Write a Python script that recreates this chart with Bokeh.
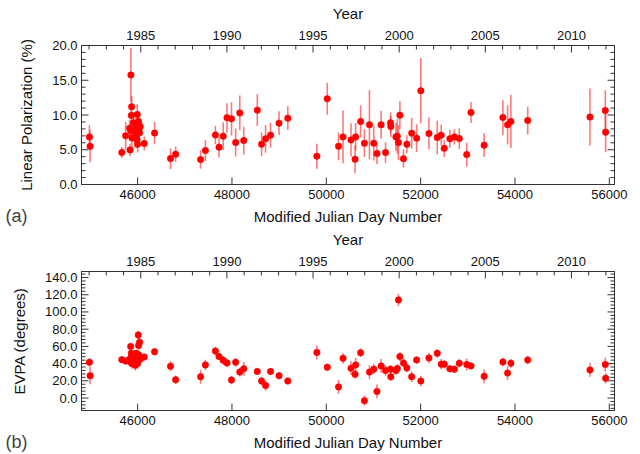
import math
from bokeh.plotting import figure
from bokeh.layouts import column
from bokeh.models import (ColumnDataSource, LinearAxis, Range1d, SingleIntervalTicker,
                          PrintfTickFormatter, BasicTickFormatter, CustomJSTickFormatter, Title)
from bokeh.embed import file_html
from bokeh.resources import INLINE

# ---- data ----
mjd = [44978, 44992, 45665, 45746, 45831, 45840, 45852, 45858, 45866, 45873,
       45880, 45915, 45928, 45949, 45970, 45985, 45992, 46000, 46013, 46020,
       46027, 46042, 46055, 46140, 46359, 46697, 46806, 47335, 47437, 47649,
       47726, 47815, 47895, 47990, 48078, 48166, 48250, 48537, 48628, 48713,
       48818, 48998, 49184, 49800, 50020, 50259, 50355, 50524, 50610, 50622,
       50727, 50808, 50915, 51006, 51074, 51162, 51256, 51362, 51368, 51476,
       51506, 51530, 51560, 51636, 51708, 51810, 51915, 52004, 52176, 52352,
       52436, 52500, 52620, 52715, 52820, 52977, 53068, 53346, 53744, 53843,
       53913, 54270, 55590, 55915, 55922]

pol = [6.85, 5.5, 4.6, 7.0, 8.1, 4.98, 7.72, 15.76, 9.93, 11.2,
       6.7, 8.9, 7.7, 6.85, 8.1, 6.47, 10.07, 5.8, 8.63, 9.06,
       8.0, 7.43, 8.34, 5.9, 7.4, 3.73, 4.36, 3.58, 4.88, 7.14,
       5.37, 6.95, 9.6, 9.45, 6.04, 10.3, 6.32, 10.7, 5.8, 6.57,
       7.1, 8.83, 9.55, 4.07, 12.34, 5.5, 6.85, 6.42, 3.63, 6.85,
       9.06, 5.94, 8.59, 5.94, 4.45, 8.59, 4.59, 8.87, 8.34, 6.85,
       6.95, 6.03, 9.98, 3.72, 5.8, 7.38, 6.67, 13.5, 7.33, 6.76,
       7.1, 5.2, 6.57, 6.85, 6.61, 4.3, 10.36, 5.66, 9.64, 8.59,
       9.06, 9.2, 9.7, 10.65, 7.53]

pol_err = [1.7, 2.3, 0.8, 2.0, 1.2, 0.9, 1.2, 3.9, 1.5, 1.5,
           1.3, 1.5, 1.5, 1.5, 1.5, 1.2, 1.5, 1.2, 1.5, 1.5,
           1.5, 1.2, 1.2, 1.0, 1.6, 1.5, 1.1, 1.3, 1.5, 1.3,
           1.5, 2.0, 2.1, 2.4, 2.0, 2.5, 2.0, 2.3, 1.7, 2.0,
           1.8, 1.7, 1.7, 1.8, 2.3, 2.0, 3.8, 2.4, 2.0, 2.0,
           2.3, 2.0, 5.0, 2.5, 1.5, 2.0, 1.5, 1.5, 1.5, 2.0,
           2.5, 2.5, 2.0, 1.3, 1.3, 2.2, 2.0, 4.7, 2.3, 2.4,
           1.5, 1.2, 1.3, 1.1, 1.5, 1.7, 1.5, 1.7, 2.5, 2.8,
           3.8, 2.0, 4.1, 2.9, 2.9]

evpa = [41.5, 25.9, 44.6, 43.0, 45.0, 42.0, 59.9, 46.1, 52.0, 48.0,
        40.0, 50.0, 44.0, 38.0, 52.0, 47.0, 42.0, 40.0, 73.2, 61.0,
        50.0, 64.8, 45.0, 47.6, 53.8, 37.0, 21.3, 24.7, 38.5, 54.5,
        48.1, 43.8, 40.8, 20.9, 41.6, 30.1, 33.9, 30.9, 19.8, 14.5,
        30.9, 25.9, 19.8, 53.0, 35.8, 12.9, 46.1, 34.7, 27.5, 38.5,
        52.6, -3.1, 30.1, 33.5, 7.6, 37.3, 32.0, 33.5, 24.7, 32.0,
        34.3, 114.0, 48.1, 40.8, 35.0, 24.7, 44.2, 19.8, 46.5, 51.9,
        39.3, 39.3, 33.9, 33.5, 40.4, 38.9, 37.3, 25.2, 41.9, 29.0,
        40.4, 44.2, 32.7, 38.9, 22.9]

evpa_err = [5, 10, 4, 4, 5, 6, 4, 5, 4, 5,
            6, 5, 5, 6, 4, 5, 8, 5, 5, 5,
            5, 5, 4, 4, 4, 6, 5, 8, 6, 5,
            4, 5, 5, 5, 5, 5, 8, 4, 5, 6,
            4, 4, 4, 8, 4, 8, 6, 8, 5, 8,
            5, 6, 8, 6, 8, 8, 6, 5, 5, 5,
            5, 7, 5, 5, 5, 6, 4, 6, 6, 5,
            6, 5, 4, 4, 5, 7, 4, 8, 5, 8,
            5, 5, 8, 8, 6]

MJD_MIN, MJD_MAX = 44810, 56110
MJD_STEP = 2000
YEAR_STEP = 5

W, H = 640, 227
BL, BR = 81, 26


def mjd_to_year(m):
    return 1858.877 + m / 365.25


def year_to_mjd(y):
    return (y - 1858.877) * 365.25


FONT = "Liberation Sans"
AX_COLOR = "#333333"


def style_axis(ax, labels=True):
    ax.major_tick_in = 0
    ax.major_tick_out = 0
    ax.minor_tick_in = 0
    ax.minor_tick_out = 0
    ax.axis_line_color = AX_COLOR
    ax.major_label_text_font = FONT
    ax.major_label_text_color = "#111111"
    ax.major_label_text_font_size = "13px"
    ax.axis_label_text_font = FONT
    ax.axis_label_text_font_style = "normal"
    ax.axis_label_text_font_size = "15px"
    ax.axis_label_text_color = "#111111"
    if not labels:
        ax.formatter = CustomJSTickFormatter(code="return ''")
        ax.major_label_standoff = 0


def multiples(lo, hi, step):
    k0 = math.ceil(lo / step - 1e-9)
    k1 = math.floor(hi / step + 1e-9)
    return [k * step for k in range(k0, k1 + 1)]


def add_ticks(p, y_lo, y_hi, y_interval, frame_h):
    # inward tick marks, lengths converted from pixels to data units
    frame_w = W - BL - BR
    dx = (MJD_MAX - MJD_MIN) / frame_w
    dy = (y_hi - y_lo) / frame_h
    x0s, y0s, x1s, y1s = [], [], [], []

    def vtick(x, y, n):  # n pixels, sign = direction
        x0s.append(x); y0s.append(y); x1s.append(x); y1s.append(y + n * dy)

    def htick(x, y, n):
        x0s.append(x); y0s.append(y); x1s.append(x + n * dx); y1s.append(y)

    for x in multiples(MJD_MIN, MJD_MAX, MJD_STEP):
        vtick(x, y_lo, 7)
    for yr in multiples(mjd_to_year(MJD_MIN), mjd_to_year(MJD_MAX), 1):
        vtick(year_to_mjd(yr), y_hi, -7 if yr % YEAR_STEP == 0 else -4)
    minor_step = y_interval / 5
    for v in multiples(y_lo, y_hi, minor_step):
        is_major = abs(v / y_interval - round(v / y_interval)) < 1e-6
        n = 7 if is_major else 4
        htick(MJD_MIN, v, n)
        htick(MJD_MAX, v, -n)
    p.segment(x0=x0s, y0=y0s, x1=x1s, y1=y1s, line_color=AX_COLOR, line_width=1)


def make_panel(vals, errs, y_lo, y_hi, y_interval, y_label, tag, b_top, b_bottom):
    p = figure(width=W, height=H, output_backend="svg", toolbar_location=None,
               x_range=Range1d(MJD_MIN, MJD_MAX), y_range=Range1d(y_lo, y_hi),
               min_border_left=BL, min_border_right=BR,
               min_border_top=b_top, min_border_bottom=b_bottom)
    p.grid.visible = False
    p.outline_line_color = AX_COLOR
    p.extra_x_ranges = {"year": Range1d(mjd_to_year(MJD_MIN), mjd_to_year(MJD_MAX))}

    xb = p.xaxis[0]
    xb.ticker = SingleIntervalTicker(interval=MJD_STEP, num_minor_ticks=0)
    xb.formatter = BasicTickFormatter(use_scientific=False)
    xb.axis_label = "Modified Julian Day Number"
    style_axis(xb)
    xb.major_label_standoff = 5
    xb.axis_label_standoff = 6

    yl = p.yaxis[0]
    yl.ticker = SingleIntervalTicker(interval=y_interval, num_minor_ticks=5)
    yl.formatter = PrintfTickFormatter(format="%.1f")
    yl.axis_label = y_label
    style_axis(yl)
    yl.major_label_standoff = 4
    yl.axis_label_standoff = 14

    xt = LinearAxis(x_range_name="year", axis_label="Year",
                    ticker=SingleIntervalTicker(interval=YEAR_STEP, num_minor_ticks=5),
                    formatter=BasicTickFormatter(use_scientific=False))
    style_axis(xt)
    xt.major_label_standoff = 6
    xt.axis_label_standoff = 6
    p.add_layout(xt, "above")

    yr = LinearAxis(ticker=SingleIntervalTicker(interval=y_interval, num_minor_ticks=5))
    style_axis(yr, labels=False)
    p.add_layout(yr, "right")

    add_ticks(p, y_lo, y_hi, y_interval, H - b_top - b_bottom)

    lo = [v - e for v, e in zip(vals, errs)]
    hi = [v + e for v, e in zip(vals, errs)]
    src = ColumnDataSource(dict(x=mjd, y=vals, lo=lo, hi=hi))
    p.segment(x0="x", y0="lo", x1="x", y1="hi", source=src,
              line_color="#ff2020", line_alpha=0.6, line_width=1.6)
    p.scatter(x="x", y="y", source=src, size=6.5, fill_color="#ff0000",
              line_color="#ff0000", line_width=0.5)

    t = Title(text=tag, align="left", offset=-76, vertical_align="top", standoff=-44,
              text_font=FONT, text_font_size="18px", text_font_style="normal",
              text_color="#444444")
    p.add_layout(t, "below")
    return p


pa = make_panel(pol, pol_err, 0.0, 20.0, 5, "Linear Polarization (%)", "(a)", 45, 43)
pb = make_panel(evpa, evpa_err, -14.5, 147.0, 20, "EVPA (degrees)", "(b)", 42, 44)

layout = column(pa, pb, spacing=0)
open("out.html", "w").write(file_html(layout, INLINE))
